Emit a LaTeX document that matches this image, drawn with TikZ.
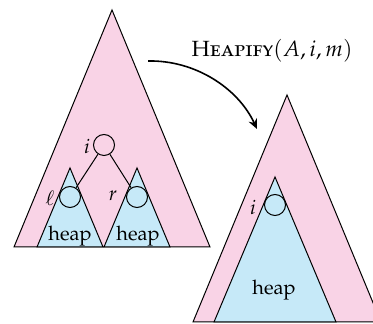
\documentclass[tikz,border=0pt]{standalone}
\usepackage[T1]{fontenc}
\usepackage[sc]{mathpazo}
\usetikzlibrary{arrows.meta}
\definecolor{heappink}{HTML}{F9D3E6}
\definecolor{heapblue}{HTML}{C6E9F8}
\begin{document}
\begin{tikzpicture}[x=0.5pt,y=-0.5pt,
  outer/.style={fill=heappink,draw=black,line width=0.5pt,line join=miter},
  inner/.style={fill=heapblue,draw=black,line width=0.5pt},
  circ/.style={circle,draw=black,line width=0.5pt,minimum size=10.5pt,inner sep=0pt},
  lbl/.style={inner sep=0pt},
  edge/.style={draw=black,line width=0.5pt}]
\clip (0,0) rectangle (373,324);
% left tree
\path[outer] (14,247) -- (112,10) -- (210,247) -- cycle;
\path[inner] (37,247) -- (70,168) -- (103,247) -- cycle;
\path[inner] (104,247) -- (137,168) -- (170,247) -- cycle;
\node[circ] (i) at (104,145) {};
\node[circ] (l) at (70,197) {};
\node[circ] (r) at (137,197) {};
\draw[edge] (i) -- (l);
\draw[edge] (i) -- (r);
\node[lbl] (ilbl) at (87,146) {$i$};
\node[lbl] (llbl) at (50,198) {$\ell$};
\node[lbl] (rlbl) at (113,196) {$r$};
\node[lbl] (h1) at (70,236) {heap};
\node[lbl] (h2) at (138,236) {heap};
% right tree
\path[outer] (193,322) -- (287,95) -- (381,322) -- cycle;
\path[inner] (214,322) -- (275,177) -- (336,322) -- cycle;
\node[circ] (i2) at (275,205) {};
\node[lbl] (i2lbl) at (253,207) {$i$};
\node[lbl] (h3) at (274,290) {heap};
% title and arrow
\node[lbl,font=\fontsize{11}{13}\selectfont] (title) at (272,51) {\textsc{Heapify}$(A,i,m)$};
\coordinate (as) at (148,61);
\coordinate (ae) at (257,129);
\draw[line width=0.8pt,-{Stealth[length=5pt,width=4.5pt]}] (as) .. controls (195,60) and (238,88) .. (ae);
\end{tikzpicture}
\end{document}
